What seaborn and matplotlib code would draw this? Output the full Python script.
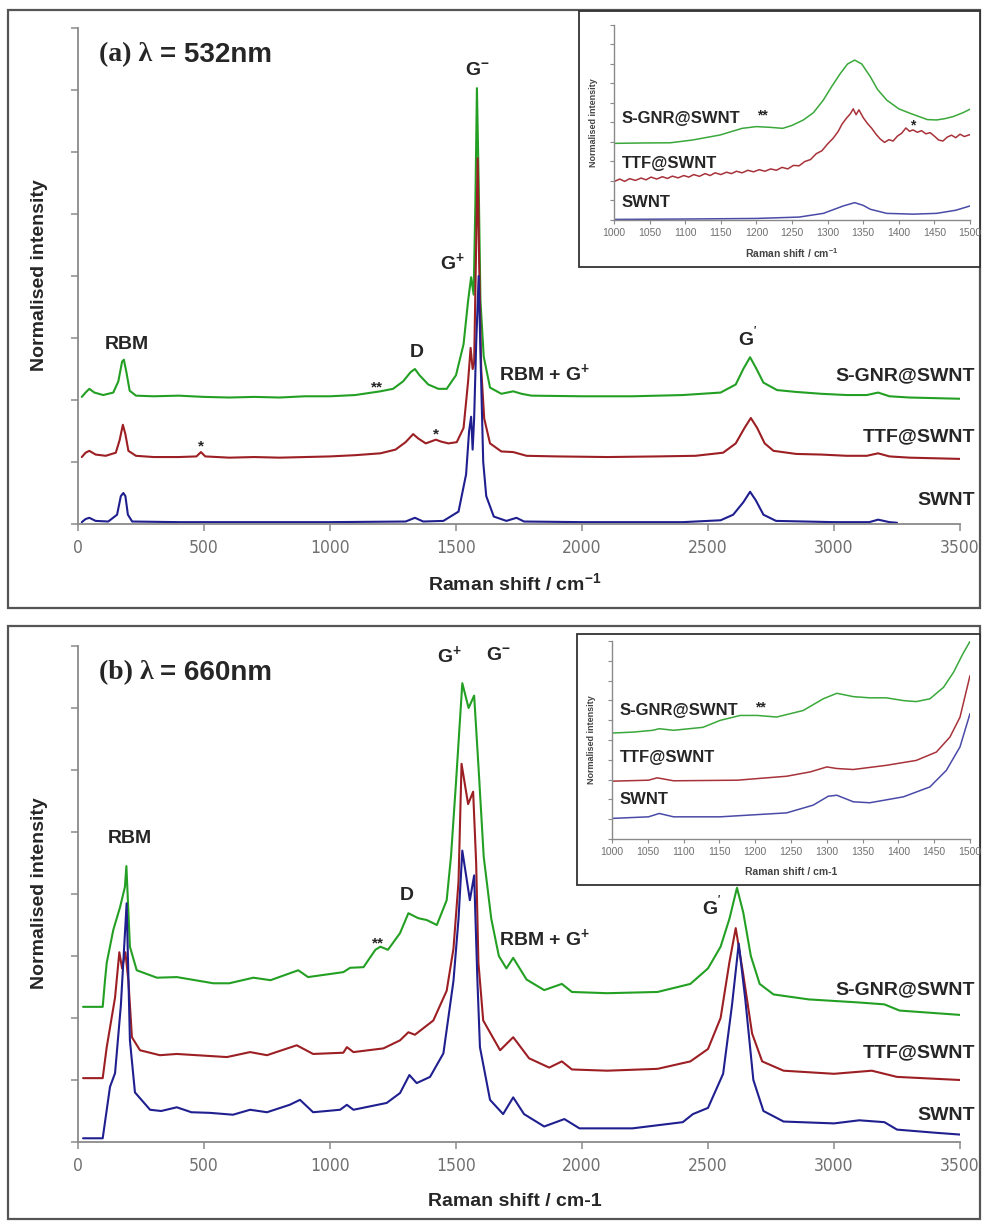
import matplotlib
matplotlib.use("Agg")
import matplotlib.pyplot as plt
from matplotlib.patches import Rectangle
import seaborn as sns
import pandas as pd

# ---------------- data ----------------
# Panel (a) 532 nm, main spectra: Raman shift (cm-1) and offset normalised intensity
a_gnr_x = [15, 30, 45, 65, 100, 140, 160, 175, 182, 192, 205, 230, 300, 400, 500, 600, 700, 800, 900, 1000,
           1100, 1150, 1200, 1250, 1290, 1320, 1337, 1355, 1390, 1430, 1463, 1500, 1530, 1548, 1560, 1570,
           1577, 1583, 1590, 1597, 1610, 1635, 1680, 1727, 1760, 1800, 2000, 2200, 2400, 2550, 2610, 2640,
           2667, 2690, 2720, 2774, 2850, 2950, 3050, 3130, 3175, 3220, 3300, 3400, 3500]
a_gnr_y = [2.05, 2.12, 2.18, 2.12, 2.08, 2.12, 2.3, 2.62, 2.65, 2.45, 2.15, 2.07, 2.06, 2.07, 2.05, 2.04, 2.05,
           2.04, 2.06, 2.06, 2.08, 2.11, 2.14, 2.18, 2.3, 2.45, 2.5, 2.4, 2.25, 2.18, 2.18, 2.4, 2.9, 3.6, 3.98,
           3.7, 5.2, 7.03, 5.5, 3.6, 2.7, 2.2, 2.1, 2.14, 2.1, 2.07, 2.06, 2.06, 2.08, 2.12, 2.25, 2.5, 2.69,
           2.52, 2.28, 2.16, 2.13, 2.1, 2.08, 2.08, 2.12, 2.06, 2.04, 2.03, 2.02]

a_ttf_x = [15, 30, 45, 70, 110, 150, 165, 178, 188, 200, 230, 300, 400, 470, 488, 505, 600, 700, 800, 900,
           1000, 1100, 1200, 1260, 1300, 1330, 1350, 1380, 1400, 1420, 1440, 1470, 1503, 1530, 1548, 1558,
           1566, 1572, 1580, 1586, 1592, 1600, 1612, 1635, 1680, 1727, 1780, 1900, 2100, 2300, 2450, 2560,
           2610, 2645, 2670, 2695, 2725, 2760, 2850, 2950, 3050, 3130, 3175, 3220, 3300, 3400, 3500]
a_ttf_y = [1.08, 1.15, 1.18, 1.12, 1.1, 1.15, 1.35, 1.6, 1.45, 1.18, 1.1, 1.08, 1.08, 1.09, 1.16, 1.09, 1.07,
           1.08, 1.07, 1.08, 1.09, 1.11, 1.14, 1.2, 1.32, 1.45, 1.38, 1.3, 1.33, 1.36, 1.33, 1.3, 1.32, 1.55,
           2.3, 2.84, 2.5, 2.6, 4.5, 5.9, 4.2, 2.5, 1.7, 1.3, 1.17, 1.16, 1.1, 1.09, 1.08, 1.09, 1.1, 1.15,
           1.3, 1.55, 1.71, 1.55, 1.3, 1.18, 1.13, 1.12, 1.1, 1.1, 1.14, 1.09, 1.07, 1.06, 1.05]

a_swnt_x = [15, 30, 45, 70, 120, 155, 170, 180, 188, 198, 215, 400, 700, 1000, 1300, 1337, 1370, 1450, 1510,
            1540, 1552, 1560, 1566, 1572, 1580, 1590, 1598, 1608, 1620, 1650, 1700, 1740, 1770, 2000, 2400,
            2550, 2600, 2640, 2667, 2690, 2720, 2770, 3000, 3140, 3175, 3220, 3250]
a_swnt_y = [0.03, 0.08, 0.1, 0.05, 0.04, 0.15, 0.45, 0.5, 0.45, 0.15, 0.04, 0.03, 0.03, 0.03, 0.04, 0.1, 0.04,
            0.05, 0.2, 0.8, 1.5, 1.73, 1.2, 1.7, 2.9, 4.0, 2.6, 1.0, 0.45, 0.12, 0.05, 0.1, 0.04, 0.03, 0.03,
            0.06, 0.15, 0.35, 0.52, 0.38, 0.15, 0.05, 0.03, 0.03, 0.07, 0.03, 0.02]

# Panel (a) inset (1000-1500 cm-1)
ia_gnr_x = [1000, 1040, 1079, 1110, 1149, 1180, 1200, 1220, 1237, 1250, 1266, 1280, 1294, 1305, 1318, 1328,
            1338, 1348, 1360, 1370, 1383, 1400, 1416, 1440, 1453, 1465, 1476, 1490, 1500]
ia_gnr_y = [3.93, 3.95, 3.96, 4.1, 4.36, 4.7, 4.79, 4.75, 4.7, 4.85, 5.13, 5.5, 6.15, 6.8, 7.52, 8.0, 8.2, 8.0,
            7.35, 6.7, 6.15, 5.7, 5.47, 5.15, 5.13, 5.2, 5.3, 5.5, 5.68]
ia_ttf_x = [1000, 1008, 1015, 1022, 1030, 1038, 1045, 1052, 1060, 1068, 1075, 1082, 1090, 1098, 1105, 1112,
            1120, 1128, 1135, 1142, 1150, 1158, 1165, 1172, 1180, 1188, 1196, 1204, 1212, 1220, 1228, 1236,
            1244, 1252, 1260, 1268, 1276, 1284, 1292, 1300, 1308, 1315, 1320, 1326, 1332, 1336, 1340, 1344,
            1350, 1356, 1362, 1368, 1374, 1380, 1386, 1392, 1398, 1404, 1410, 1415, 1420, 1426, 1432, 1438,
            1444, 1450, 1456, 1462, 1468, 1474, 1480, 1486, 1492, 1500]
ia_ttf_y = [1.97, 2.1, 1.98, 2.12, 2.03, 2.15, 2.06, 2.2, 2.1, 2.22, 2.13, 2.25, 2.16, 2.28, 2.2, 2.33, 2.24,
            2.38, 2.28, 2.42, 2.33, 2.45, 2.38, 2.5, 2.42, 2.55, 2.47, 2.58, 2.5, 2.62, 2.55, 2.7, 2.62, 2.8,
            2.78, 3.0, 3.1, 3.4, 3.55, 3.9, 4.2, 4.55, 4.9, 5.2, 5.45, 5.7, 5.4, 5.65, 5.25, 4.95, 4.7, 4.4,
            4.15, 3.98, 4.12, 4.05, 4.3, 4.45, 4.72, 4.55, 4.62, 4.5, 4.58, 4.42, 4.48, 4.3, 4.1, 4.05, 4.25,
            4.35, 4.22, 4.4, 4.28, 4.38]
ia_swnt_x = [1000, 1100, 1200, 1260, 1294, 1322, 1338, 1350, 1360, 1383, 1420, 1453, 1480, 1500]
ia_swnt_y = [0.03, 0.05, 0.08, 0.15, 0.34, 0.72, 0.89, 0.75, 0.55, 0.34, 0.3, 0.34, 0.5, 0.72]

# Panel (b) 660 nm, main spectra
b_gnr_x = [20, 98, 107, 114, 140, 167, 186, 192, 206, 233, 313, 392, 537, 600, 696, 764, 874, 913, 1053,
           1080, 1133, 1180, 1200, 1230, 1278, 1311, 1350, 1384, 1424, 1463, 1480, 1500, 1525, 1550, 1572,
           1590, 1610, 1640, 1670, 1700, 1727, 1780, 1850, 1920, 1960, 2100, 2300, 2430, 2500, 2550, 2585,
           2615, 2640, 2670, 2705, 2760, 2900, 3100, 3200, 3260, 3500]
b_gnr_y = [2.18, 2.18, 2.6, 2.89, 3.42, 3.79, 4.11, 4.45, 3.15, 2.77, 2.65, 2.66, 2.56, 2.56, 2.65, 2.61,
           2.77, 2.66, 2.74, 2.81, 2.82, 3.1, 3.15, 3.1, 3.37, 3.69, 3.61, 3.58, 3.5, 3.9, 4.6, 5.8, 7.4, 7.0,
           7.2, 6.0, 4.6, 3.6, 3.0, 2.8, 2.97, 2.62, 2.45, 2.55, 2.42, 2.4, 2.42, 2.55, 2.8, 3.15, 3.6, 4.1,
           3.7, 3.0, 2.55, 2.38, 2.3, 2.25, 2.22, 2.12, 2.05]

b_ttf_x = [20, 98, 114, 147, 164, 175, 188, 200, 214, 246, 325, 392, 591, 683, 750, 868, 933, 1053, 1067,
           1093, 1212, 1278, 1311, 1337, 1410, 1463, 1490, 1510, 1522, 1548, 1568, 1580, 1589, 1608, 1675,
           1727, 1790, 1870, 1920, 1960, 2100, 2300, 2430, 2500, 2550, 2585, 2610, 2640, 2675, 2715, 2800,
           3000, 3150, 3250, 3500]
b_ttf_y = [1.03, 1.03, 1.53, 2.33, 3.06, 2.8, 3.06, 2.6, 1.69, 1.48, 1.4, 1.42, 1.37, 1.45, 1.4, 1.56, 1.42,
           1.44, 1.53, 1.45, 1.51, 1.64, 1.77, 1.73, 1.96, 2.44, 3.12, 4.2, 6.1, 5.45, 5.65, 4.5, 2.89, 1.96,
           1.48, 1.69, 1.35, 1.2, 1.3, 1.17, 1.15, 1.18, 1.3, 1.5, 2.0, 2.9, 3.45, 2.7, 1.75, 1.3, 1.15, 1.1,
           1.15, 1.05, 1.0]

b_swnt_x = [20, 98, 127, 147, 170, 193, 206, 226, 286, 330, 392, 450, 524, 615, 683, 750, 840, 881, 933,
            1040, 1067, 1093, 1225, 1278, 1315, 1344, 1397, 1450, 1490, 1510, 1525, 1555, 1572, 1585, 1595,
            1635, 1687, 1727, 1770, 1850, 1930, 1990, 2200, 2400, 2440, 2500, 2560, 2595, 2622, 2648, 2680,
            2720, 2800, 3000, 3100, 3200, 3250, 3400, 3500]
b_swnt_y = [0.06, 0.06, 0.89, 1.11, 2.2, 3.85, 1.64, 0.8, 0.52, 0.5, 0.56, 0.48, 0.47, 0.44, 0.52, 0.48,
            0.6, 0.68, 0.48, 0.52, 0.6, 0.52, 0.63, 0.79, 1.08, 0.95, 1.05, 1.43, 2.6, 3.6, 4.7, 3.9, 4.3,
            2.6, 1.53, 0.68, 0.45, 0.72, 0.45, 0.25, 0.37, 0.22, 0.22, 0.32, 0.45, 0.55, 1.1, 2.2, 3.2, 2.3,
            1.0, 0.5, 0.33, 0.3, 0.35, 0.32, 0.2, 0.15, 0.12]

# Panel (b) inset
ib_gnr_x = [1000, 1030, 1057, 1066, 1086, 1127, 1151, 1179, 1203, 1230, 1267, 1295, 1314, 1337, 1360, 1383,
            1407, 1425, 1444, 1463, 1477, 1490, 1500]
ib_gnr_y = [5.35, 5.4, 5.49, 5.57, 5.49, 5.64, 5.99, 6.24, 6.24, 6.16, 6.49, 7.08, 7.36, 7.19, 7.13, 7.13,
            6.99, 6.94, 7.08, 7.66, 8.42, 9.35, 9.98]
ib_ttf_x = [1000, 1051, 1063, 1086, 1175, 1244, 1277, 1300, 1314, 1337, 1383, 1425, 1453, 1472, 1486, 1500]
ib_ttf_y = [2.92, 2.97, 3.09, 2.94, 2.97, 3.17, 3.39, 3.64, 3.56, 3.51, 3.72, 3.97, 4.39, 5.15, 6.15, 8.25]
ib_swnt_x = [1000, 1051, 1066, 1086, 1151, 1244, 1281, 1302, 1314, 1337, 1360, 1407, 1444, 1467, 1486, 1500]
ib_swnt_y = [1.04, 1.12, 1.29, 1.12, 1.12, 1.32, 1.71, 2.16, 2.21, 1.88, 1.83, 2.13, 2.63, 3.47, 4.65, 6.33]

sample_names = ["S-GNR@SWNT", "TTF@SWNT", "SWNT"]
main_xticks = [0, 500, 1000, 1500, 2000, 2500, 3000, 3500]
inset_xticks = [1000, 1050, 1100, 1150, 1200, 1250, 1300, 1350, 1400, 1450, 1500]

# ---------------- styling ----------------
sns.set_style("ticks")
plt.rcParams["font.family"] = ["Liberation Sans", "DejaVu Sans"]
plt.rcParams["mathtext.fontset"] = "custom"
plt.rcParams["mathtext.rm"] = "Liberation Sans:bold"
plt.rcParams["mathtext.bf"] = "Liberation Sans:bold"
plt.rcParams["mathtext.it"] = "Liberation Sans:bold"
plt.rcParams["mathtext.default"] = "bf"

GREEN, RED, BLUE = "#23a023", "#9c1f24", "#1f1f8f"
IGREEN, IRED, IBLUE = "#3aa83a", "#a8323a", "#4a4aa8"
AXC = "#8a8a8a"
TICKC = "#707070"

W, H = 982, 1221
fig = plt.figure(figsize=(W / 100, H / 100), dpi=100)


def rect(l, t, r, b):
    return [l / W, 1 - b / H, (r - l) / W, (b - t) / H]


def frame(l, t, r, b, lw=1.6, ec="#555555", fc="none", z=0):
    fig.patches.append(Rectangle((l / W, 1 - b / H), (r - l) / W, (b - t) / H, transform=fig.transFigure,
                                 fill=(fc != "none"), facecolor=fc, edgecolor=ec, lw=lw, zorder=z))


def draw(ax, xs, ys, color, lw):
    df = pd.DataFrame({"shift": xs, "intensity": ys})
    sns.lineplot(data=df, x="shift", y="intensity", ax=ax, color=color, lw=lw,
                 estimator=None, sort=False, legend=False)


def style_main(ax):
    ax.set_xlim(0, 3500)
    ax.set_ylim(0, 8)
    ax.set_xticks(main_xticks)
    ax.set_yticks(range(0, 9))
    ax.set_yticklabels([])
    ax.set_xlabel("")
    ax.set_ylabel("")
    for s in ["top", "right"]:
        ax.spines[s].set_visible(False)
    for s in ["left", "bottom"]:
        ax.spines[s].set_color(AXC)
        ax.spines[s].set_linewidth(1.3)
    ax.tick_params(axis="both", direction="out", length=5, width=1.1, color=AXC)
    ax.tick_params(axis="x", labelsize=13, labelcolor=TICKC, pad=6)
    for lab in ax.get_xticklabels():
        lab.set_family("DejaVu Sans")
        lab.set_stretch("condensed")
        lab.set_fontsize(12.5)
    ax.patch.set_alpha(0)


def style_inset(ax):
    ax.set_xlim(1000, 1500)
    ax.set_ylim(0, 10)
    ax.set_xticks(inset_xticks)
    ax.set_yticks(range(0, 11))
    ax.set_yticklabels([])
    ax.set_xlabel("")
    ax.set_ylabel("")
    for s in ["top", "right"]:
        ax.spines[s].set_visible(False)
    for s in ["left", "bottom"]:
        ax.spines[s].set_color(AXC)
        ax.spines[s].set_linewidth(1.0)
    ax.tick_params(axis="both", direction="out", length=3, width=0.8, color=AXC)
    ax.tick_params(axis="x", labelsize=7.5, labelcolor=TICKC, pad=3)


# outer panel frames
frame(8, 10, 980, 608)
frame(8, 626, 980, 1219)

panels = [
    dict(top=28, bot=524, data=[(a_gnr_x, a_gnr_y, GREEN), (a_ttf_x, a_ttf_y, RED), (a_swnt_x, a_swnt_y, BLUE)],
         title=("(a) \u03bb", "= 532nm"), xlabel="Raman shift / cm$^{-1}$", labels_y=[376, 437, 500],
         inset_box=(579, 11, 980, 267), inset_ax=(614, 25, 970, 220),
         inset=[(ia_gnr_x, ia_gnr_y, IGREEN), (ia_ttf_x, ia_ttf_y, IRED), (ia_swnt_x, ia_swnt_y, IBLUE)],
         inset_xlabel="Raman shift / cm$^{-1}$"),
    dict(top=646, bot=1142, data=[(b_gnr_x, b_gnr_y, GREEN), (b_ttf_x, b_ttf_y, RED), (b_swnt_x, b_swnt_y, BLUE)],
         title=("(b) \u03bb", "= 660nm"), xlabel="Raman shift / cm-1", labels_y=[990, 1053, 1116],
         inset_box=(577, 634, 980, 885), inset_ax=(612, 641, 970, 839),
         inset=[(ib_gnr_x, ib_gnr_y, IGREEN), (ib_ttf_x, ib_ttf_y, IRED), (ib_swnt_x, ib_swnt_y, IBLUE)],
         inset_xlabel="Raman shift / cm-1"),
]

main_axes = []
inset_axes = []
for k, p in enumerate(panels):
    ax = fig.add_axes(rect(78, p["top"], 960, p["bot"]))
    for xs, ys, c in p["data"]:
        draw(ax, xs, ys, c, 1.5)
    style_main(ax)
    main_axes.append(ax)
    off = 0 if k == 0 else 618
    # titles
    fig.text(99 / W, 1 - (55 + off) / H, p["title"][0], family=["Liberation Serif", "DejaVu Serif"],
             fontweight="bold", fontsize=20, va="center", ha="left")
    fig.text(160 / W, 1 - (55 + off) / H, p["title"][1], fontweight="bold", fontsize=20, va="center", ha="left")
    # axis labels
    fig.text(40 / W, 1 - (275 + off) / H, "Normalised intensity", rotation=90, fontweight="bold",
             fontsize=14, va="center", ha="center")
    fig.text(515 / W, 1 - (583 + off) / H, p["xlabel"], fontweight="bold", fontsize=14,
             va="center", ha="center")
    # sample labels at right
    for name, py in zip(sample_names, p["labels_y"]):
        fig.text(975 / W, 1 - py / H, name, fontweight="bold", fontsize=14, va="center", ha="right")

    # inset
    l, t, r, b = p["inset_box"]
    frame(l, t, r, b, lw=1.3, ec="#333333", fc="white", z=1)
    iax = fig.add_axes(rect(*p["inset_ax"]))
    iax.set_zorder(3)
    for xs, ys, c in p["inset"]:
        draw(iax, xs, ys, c, 1.1)
    style_inset(iax)
    inset_axes.append(iax)
    il, it, ir, ib = p["inset_ax"]
    fig.text((il - 21) / W, 1 - ((it + ib) / 2) / H, "Normalised intensity", rotation=90,
             fontweight="bold", fontsize=6.5, color="#444444", va="center", ha="center", zorder=4)
    fig.text((il + ir) / 2 / W, 1 - (ib + 33) / H, p["inset_xlabel"], fontweight="bold", fontsize=7.5,
             color="#444444", va="center", ha="center", zorder=4)

# ---- annotations panel (a) ----
axA, axB = main_axes
T = dict(fontweight="bold", ha="center", va="center")
axA.text(194, 2.9, "RBM", fontsize=14, **T)
axA.text(1345, 2.77, "D", fontsize=14, **T)
axA.text(1187, 2.2, "**", fontsize=11, **T)
axA.text(488, 1.25, "*", fontsize=11, **T)
axA.text(1421, 1.45, "*", fontsize=11, **T)
axA.text(1484, 4.23, "G$^{+}$", fontsize=14, **T)
axA.text(1583, 7.32, "G$^{-}$", fontsize=14, **T)
axA.text(1853, 2.44, "RBM + G$^{+}$", fontsize=14, **T)
axA.text(2659, 3.0, "G$^{'}$", fontsize=14, **T)

# ---- annotations panel (b) ----
axB.text(206, 4.9, "RBM", fontsize=14, **T)
axB.text(1306, 3.98, "D", fontsize=14, **T)
axB.text(1190, 3.2, "**", fontsize=11, **T)
axB.text(1475, 7.85, "G$^{+}$", fontsize=14, **T)
axB.text(1670, 7.85, "G$^{-}$", fontsize=14, **T)
axB.text(1853, 3.29, "RBM + G$^{+}$", fontsize=14, **T)
axB.text(2515, 3.8, "G$^{'}$", fontsize=14, **T)

# ---- inset labels ----
ia, ib = inset_axes
IT = dict(fontweight="bold", ha="left", va="center", fontsize=12)
ia.text(1011, 5.18, "S-GNR@SWNT", **IT)
ia.text(1011, 2.92, "TTF@SWNT", **IT)
ia.text(1011, 0.92, "SWNT", **IT)
ia.text(1209, 5.35, "**", fontweight="bold", ha="center", va="center", fontsize=10)
ia.text(1420, 4.85, "*", fontweight="bold", ha="center", va="center", fontsize=10)
ib.text(1011, 6.5, "S-GNR@SWNT", **IT)
ib.text(1011, 4.14, "TTF@SWNT", **IT)
ib.text(1011, 1.97, "SWNT", **IT)
ib.text(1207, 6.62, "**", fontweight="bold", ha="center", va="center", fontsize=10)

fig.savefig("out.png", dpi=100)
